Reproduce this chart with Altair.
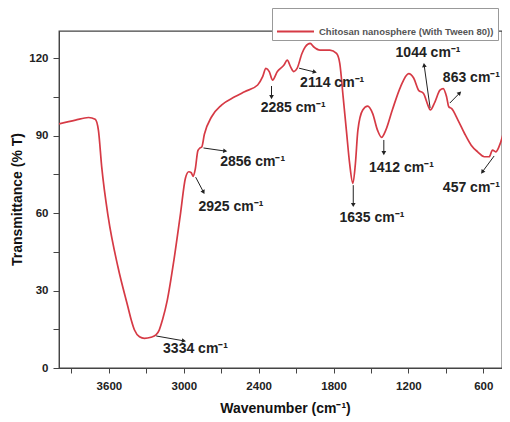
import math
import altair as alt
import pandas as pd

# ---- spectrum ----
wavenumber = [4000, 3868, 3763, 3710, 3684, 3658, 3606, 3527, 3448, 3421, 3395, 3355, 3316, 3263,
              3223, 3197, 3171, 3132, 3079, 3026, 2987, 2960, 2940, 2925, 2908, 2887, 2870, 2856,
              2835, 2777, 2698, 2592, 2513, 2408, 2368, 2342, 2315, 2289, 2250, 2197, 2171, 2145,
              2118, 2092, 2053, 2026, 1987, 1960, 1908, 1829, 1776, 1750, 1723, 1697, 1671, 1645,
              1625, 1605, 1566, 1526, 1487, 1447, 1415, 1382, 1329, 1263, 1198, 1158, 1119, 1079,
              1044, 1025, 987, 947, 921, 894, 876, 855, 803, 750, 697, 645, 592, 553, 526, 500,
              474, 447, 434]
transmittance = [94.5, 96, 97, 96.3, 92, 78, 58.6, 39, 23.7, 18.6, 14.7, 12.1, 11.5, 11.9,
                 12.8, 14.7, 18.6, 26.3, 41.8, 59.9, 73.5, 76, 75.6, 74.2, 77, 84.2, 85.2, 85.6,
                 90.5, 97.3, 101.8, 105, 107, 109.6, 112.8, 116, 114.8, 111.5, 114.8, 117.3, 119.2, 116.7,
                 114.8, 116, 121.8, 124.4, 125.7, 124.4, 123.1, 123.1, 121.8, 118, 105, 92, 79.2, 71.5,
                 79, 92, 99.9, 101.4, 98.6, 92, 89.3, 92, 99.9, 108.9, 114, 112.3, 107.6, 106.3,
                 101.8, 99.9, 103.1, 107.6, 108.2, 105, 101.1, 100.5, 96, 90.8, 86.3, 83.7, 81.8, 81.8, 84.4, 83.7,
                 85.7, 89.6, 92]
series_name = "Chitosan nanosphere (With Tween 80))"

# ---- peak annotations ----
ann_label = ["3334 cm⁻¹", "2925 cm⁻¹", "2856 cm⁻¹", "2285 cm⁻¹", "2114 cm⁻¹",
             "1635 cm⁻¹", "1412 cm⁻¹", "1044 cm⁻¹", "863 cm⁻¹", "457 cm⁻¹"]
ann_tx = [3166, 2882, 2708, 2384, 2068, 1753, 1516, 1303, 924, 924]
ann_ty = [7.4, 62.3, 79.8, 100.7, 110.3, 58.1, 77.4, 122, 112.3, 69.7]
arr_x1 = [3221, 2905, 2842, 2297, 2076, 1642, 1397, 1026, 868, 513]
arr_y1 = [12.4, 73.9, 85.2, 109.2, 116.1, 70.8, 88.3, 100.7, 102.6, 82.1]
arr_x2 = [2999, 2842, 2668, 2297, 1950, 1642, 1397, 1074, 789, 608]
arr_y2 = [10.5, 68.1, 84.0, 104.9, 114.6, 63.1, 83.2, 117.3, 106.5, 75.9]

x_ticks = [3900, 3600, 3300, 3000, 2700, 2400, 2100, 1800, 1500, 1200, 900, 600]
y_ticks = [0, 15, 30, 45, 60, 75, 90, 105, 120]

W, H = 443, 337
XMIN, XMAX = 450, 4000
YMIN, YMAX = 0, 130.5
RED = "#d63a45"
FONT = "Liberation Sans"

spec = pd.DataFrame({"wn": wavenumber, "T": transmittance, "series": series_name})

kx = W / (XMAX - XMIN)
ky = H / (YMAX - YMIN)
angles = []
for a, b, c, d in zip(arr_x1, arr_y1, arr_x2, arr_y2):
    dx = -(c - a) * kx
    dy = -(d - b) * ky
    angles.append(math.degrees(math.atan2(dx, -dy)) % 360)

ann = pd.DataFrame({"label": ann_label, "tx": ann_tx, "ty": ann_ty,
                    "x1": arr_x1, "y1": arr_y1, "x2": arr_x2, "y2": arr_y2, "ang": angles})

xscale = alt.Scale(domain=[XMIN, XMAX], reverse=True, nice=False, zero=False)
yscale = alt.Scale(domain=[YMIN, YMAX], nice=False, zero=False)

xaxis = alt.Axis(values=x_ticks, labelExpr="datum.value % 600 == 0 ? datum.label : ''",
                 title="Wavenumber (cm⁻¹)", titleX=226, titleY=40, titleBaseline="middle",
                 titleFontSize=14, titleFontWeight="bold", labelFontSize=11.5, labelFontWeight="bold",
                 labelPadding=7, tickSize=5, grid=False, format="d")
yaxis = alt.Axis(values=y_ticks, labelExpr="datum.value % 30 == 0 ? datum.label : ''",
                 title="Transmittance (% T)", titleX=-42, titleY=168, titleBaseline="middle",
                 titleFontSize=14, titleFontWeight="bold", labelFontSize=11.5, labelFontWeight="bold",
                 labelPadding=5, tickSize=6, grid=False)

line = alt.Chart(spec).mark_line(strokeWidth=1.7, clip=True, interpolate="monotone").encode(
    x=alt.X("wn:Q", scale=xscale, axis=xaxis),
    y=alt.Y("T:Q", scale=yscale, axis=yaxis),
    color=alt.Color("series:N", scale=alt.Scale(domain=[series_name], range=[RED]),
                    legend=alt.Legend(title=None, orient="none", legendX=213, legendY=-23,
                                      symbolType="stroke", symbolSize=1369, symbolStrokeWidth=2,
                                      labelFontSize=9.5, labelFontWeight="bold", labelColor="#555",
                                      labelFont=FONT, labelLimit=400, strokeColor="#999",
                                      fillColor="white", padding=4)),
)

shafts = alt.Chart(ann).mark_rule(color="#222", strokeWidth=1).encode(
    x=alt.X("x1:Q", scale=xscale), y=alt.Y("y1:Q", scale=yscale),
    x2="x2:Q", y2="y2:Q")

heads = alt.Chart(ann).mark_point(shape="triangle-up", filled=True, color="#222",
                                  size=22, opacity=1).encode(
    x=alt.X("x2:Q", scale=xscale), y=alt.Y("y2:Q", scale=yscale),
    angle=alt.Angle("ang:Q", scale=None))

texts = alt.Chart(ann).mark_text(align="left", baseline="middle", fontSize=14,
                                 fontWeight="bold", color="#222", font=FONT).encode(
    x=alt.X("tx:Q", scale=xscale), y=alt.Y("ty:Q", scale=yscale), text="label:N")

chart = alt.layer(line, shafts, heads, texts).properties(
    width=W, height=H,
    padding={"left": 51, "top": 23, "right": 0, "bottom": 50},
    autosize=alt.AutoSizeParams(type="none"),
).configure(font=FONT).configure_view(
    stroke="#444", strokeWidth=1.3
).configure_axis(
    domainColor="#444", tickColor="#444", labelColor="#222", titleColor="#111", labelFont=FONT,
    titleFont=FONT
)

chart.save("out.html", embed_options={"renderer": "svg", "actions": False})
